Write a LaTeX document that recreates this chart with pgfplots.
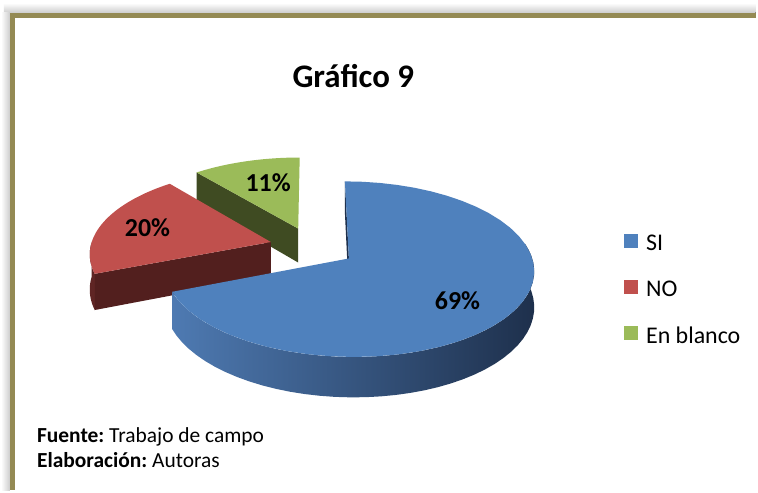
\documentclass[border=0pt]{standalone}
\usepackage{fontspec}
\setmainfont{Carlito}
\usepackage{pgfplots}
\usepackage{pgfplotstable}
\pgfplotsset{compat=1.18}
\frenchspacing

\definecolor{siblue}{RGB}{79,129,189}
\definecolor{nored}{RGB}{192,80,77}
\definecolor{ebgreen}{RGB}{155,187,89}
\definecolor{reddark}{RGB}{82,31,30}
\definecolor{redwall}{RGB}{95,37,36}
\definecolor{greendark}{RGB}{63,75,34}
\definecolor{bluedark}{RGB}{30,48,76}
\definecolor{bluewallL}{RGB}{78,122,178}
\definecolor{bluewallM}{RGB}{46,76,112}
\definecolor{frameolive}{RGB}{148,138,84}

% percentages of the three answers
\pgfplotstableread{
value
69
20
11
}\piedata
\pgfplotstablegetelem{0}{value}\of\piedata \let\vSI\pgfplotsretval
\pgfplotstablegetelem{1}{value}\of\piedata \let\vNO\pgfplotsretval
\pgfplotstablegetelem{2}{value}\of\piedata \let\vEB\pgfplotsretval

% slice angles (counter-clockwise, degrees), first slice starts at 12 o'clock going clockwise
\pgfmathsetmacro{\bA}{90}
\pgfmathsetmacro{\aA}{90-3.6*\vSI}
\pgfmathsetmacro{\bR}{\aA}
\pgfmathsetmacro{\aR}{\bR-3.6*\vNO}
\pgfmathsetmacro{\bG}{\aR}
\pgfmathsetmacro{\aG}{\bG-3.6*\vEB}
% explosion offsets
\pgfmathsetmacro{\exA}{0.24*cos((\aA+\bA)/2)}
\pgfmathsetmacro{\eyA}{0.24*sin((\aA+\bA)/2)}
\pgfmathsetmacro{\exR}{0.24*cos((\aR+\bR)/2)}
\pgfmathsetmacro{\eyR}{0.24*sin((\aR+\bR)/2)}
\pgfmathsetmacro{\exG}{0.24*cos((\aG+\bG)/2)}
\pgfmathsetmacro{\eyG}{0.24*sin((\aG+\bG)/2)}

\newcommand{\sliceang}[2]{((#1)+((#2)-(#1))*(\t-1)/40)}
\newcommand{\wallang}[2]{((#1)+((#2)-(#1))*((\t<40.5)*\t/40+(\t>40.5)*(1-(\t-41)/40)))}

% top face: color, a, b, ex, ey
\newcommand{\topface}[5]{%
 \addplot[forget plot, draw=none, fill=#1, variable=\t, samples at={0,...,41}]
 ({PX((#4)+(\t>0.5)*cos(\sliceang{#2}{#3}), (#5)+(\t>0.5)*sin(\sliceang{#2}{#3}))},
  {PY((#4)+(\t>0.5)*cos(\sliceang{#2}{#3}), (#5)+(\t>0.5)*sin(\sliceang{#2}{#3}), 0)});
}
% outer wall: options, a, b, ex, ey
\newcommand{\outerwall}[5]{%
 \addplot[forget plot, draw=none, #1, variable=\t, samples at={0,...,81}]
 ({PX((#4)+cos(\wallang{#2}{#3}), (#5)+sin(\wallang{#2}{#3}))},
  {PY((#4)+cos(\wallang{#2}{#3}), (#5)+sin(\wallang{#2}{#3}), (\t>40.5)*35)});
}
% radial wall: color, angle, ex, ey
\newcommand{\radwall}[4]{%
 \addplot[forget plot, draw=none, fill=#1, variable=\t, samples at={0,1,2,3}]
 ({PX((#3)+(\t>0.5)*(\t<2.5)*cos(#2), (#4)+(\t>0.5)*(\t<2.5)*sin(#2))},
  {PY((#3)+(\t>0.5)*(\t<2.5)*cos(#2), (#4)+(\t>0.5)*(\t<2.5)*sin(#2), (\t>1.5)*35)});
}

\begin{document}
\begin{tikzpicture}
\begin{axis}[
  scale only axis, width=758pt, height=492pt,
  xmin=0, xmax=758, ymin=0, ymax=492, y dir=reverse,
  hide axis, clip=false,
  declare function={
    PX(\xx,\yy)=313.5+181*\xx/(1+0.12*\yy);
    PY(\xx,\yy,\zz)=247.8+(-84*\yy+\zz)/(1+0.12*\yy);
  },
  legend style={draw=none, fill=none, at={(axis cs:623,232)}, anchor=north west,
    font=\fontsize{24}{28}\selectfont, row sep=25pt, cells={anchor=west}},
  legend image code/.code={\path[draw=none, fill=none] (0pt,-4pt) rectangle (20pt,10pt);\fill[#1, draw=none] (0pt,-4pt) rectangle (14pt,10pt);},
]
% background, shadow and frame
\fill[white] (axis cs:0,0) rectangle (axis cs:758,492);
\fill[top color=white, bottom color=black!20] (axis cs:4,3) rectangle (axis cs:758,13);
\fill[left color=white, right color=black!20] (axis cs:1,13) rectangle (axis cs:10,492);
\draw[frameolive, line width=5pt] (axis cs:758,15.5) -- (axis cs:12.5,15.5) -- (axis cs:12.5,492);

% green slice (En blanco)
\radwall{greendark}{\bG}{\exG}{\eyG}
\topface{ebgreen}{\aG}{\bG}{\exG}{\eyG}
% red slice (NO)
\outerwall{fill=redwall}{-180}{\bR}{\exR}{\eyR}
\radwall{reddark}{\bR}{\exR}{\eyR}
\topface{nored}{\aR}{\bR}{\exR}{\eyR}
% blue slice (SI)
\radwall{bluedark}{\bA}{\exA}{\eyA}
\outerwall{left color=bluewallL, middle color=bluewallM, right color=bluedark}{\aA}{10}{\exA}{\eyA}
\topface{siblue}{\aA}{\bA}{\exA}{\eyA}

% legend
\addlegendimage{fill=siblue, draw=none}\addlegendentry{SI}
\addlegendimage{fill=nored, draw=none}\addlegendentry{NO}
\addlegendimage{fill=ebgreen, draw=none}\addlegendentry{En blanco}

% labels
\node[font=\bfseries\fontsize{26}{30}\selectfont] at (axis cs:459,302) {69\%};
\node[font=\bfseries\fontsize{26}{30}\selectfont] at (axis cs:148,228) {20\%};
\node[font=\bfseries\fontsize{26}{30}\selectfont] at (axis cs:269,183) {11\%};
\node[font=\bfseries\fontsize{33}{38}\selectfont, anchor=base, inner sep=0pt] at (axis cs:354.5,88) {Gráfico 9};
\node[font=\fontsize{21.5}{25}\selectfont, anchor=base west, inner sep=0pt] at (axis cs:37,444) {\textbf{Fuente:} Trabajo de campo};
\node[font=\fontsize{21.5}{25}\selectfont, anchor=base west, inner sep=0pt] at (axis cs:37,469) {\textbf{Elaboración:} Autoras};
\end{axis}
\end{tikzpicture}
\end{document}
